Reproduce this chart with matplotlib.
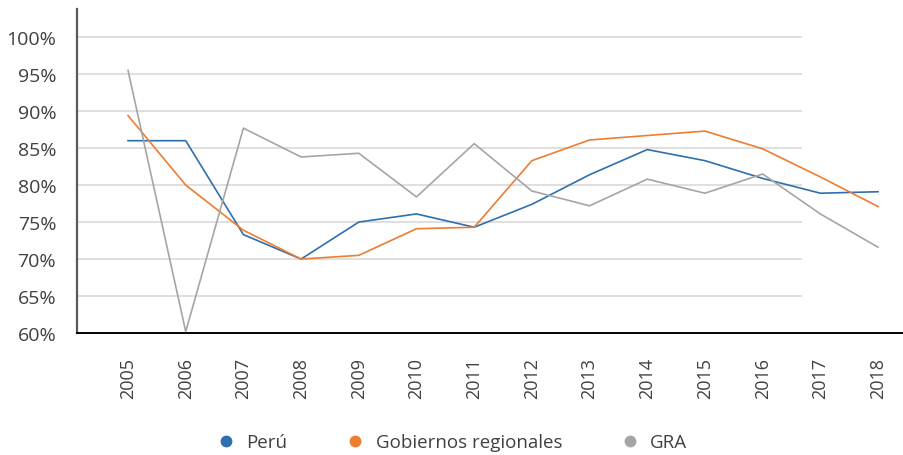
import numpy as np
import matplotlib
matplotlib.use("Agg")
import matplotlib.pyplot as plt
from matplotlib.lines import Line2D

years = ["2005", "2006", "2007", "2008", "2009", "2010", "2011",
         "2012", "2013", "2014", "2015", "2016", "2017", "2018"]
peru = [86.0, 86.0, 73.3, 70.0, 75.0, 76.1, 74.3,
        77.4, 81.4, 84.8, 83.3, 80.9, 78.9, 79.1]
gob_regionales = [89.4, 80.0, 73.9, 70.0, 70.5, 74.1, 74.3,
                  83.3, 86.1, 86.7, 87.3, 84.9, 81.1, 77.1]
gra = [95.5, 60.2, 87.7, 83.8, 84.3, 78.4, 85.6,
       79.2, 77.2, 80.8, 78.9, 81.5, 76.1, 71.6]
series_names = ["Perú", "Gobiernos regionales", "GRA"]
yticks = [60, 65, 70, 75, 80, 85, 90, 95, 100]

colors = ["#2E6FAC", "#ED7D31", "#A5A5A5"]
plt.rcParams['font.family'] = ['Open Sans', 'DejaVu Sans']

fig = plt.figure(figsize=(9.04, 4.56), dpi=100)
ax = fig.add_axes([0.0852, 0.2675, 0.9148, 0.7105])

x = np.arange(len(years))
x_left, x_right = -0.884, 13.45
grid_end = 11.68

# gridlines (they stop short of the right edge in the original)
ax.hlines(yticks[1:], x_left, grid_end, color="#D9D9D9", linewidth=1.2, zorder=1)

for vals, c in zip([peru, gob_regionales, gra], colors):
    ax.plot(x, vals, color=c, linewidth=1.2, zorder=3)

ax.set_xlim(x_left, x_right)
ax.set_ylim(60, 103.8)
ax.set_yticks(yticks)
ax.set_yticklabels([f"{v}%" for v in yticks], fontsize=14, color="#404040")
ax.set_xticks(x)
ax.set_xticklabels(years, rotation=90, fontsize=13, color="#404040")
ax.tick_params(axis="both", length=0)
ax.tick_params(axis="x", pad=17)
ax.tick_params(axis="y", pad=15)

for s in ["top", "right"]:
    ax.spines[s].set_visible(False)
ax.spines["left"].set_color("#595959")
ax.spines["left"].set_linewidth(1.6)
ax.spines["bottom"].set_color("#000000")
ax.spines["bottom"].set_linewidth(1.4)

handles = [Line2D([], [], linestyle="none", marker="o", markersize=7.5,
                  color=c) for c in colors]
leg = fig.legend(handles, series_names, loc="center", ncol=3,
                 bbox_to_anchor=(0.5, 0.028), frameon=False, fontsize=13.5,
                 handletextpad=0.6, columnspacing=3.1, handlelength=1.0)
for t in leg.get_texts():
    t.set_color("#404040")

fig.savefig("out.png", dpi=100)
